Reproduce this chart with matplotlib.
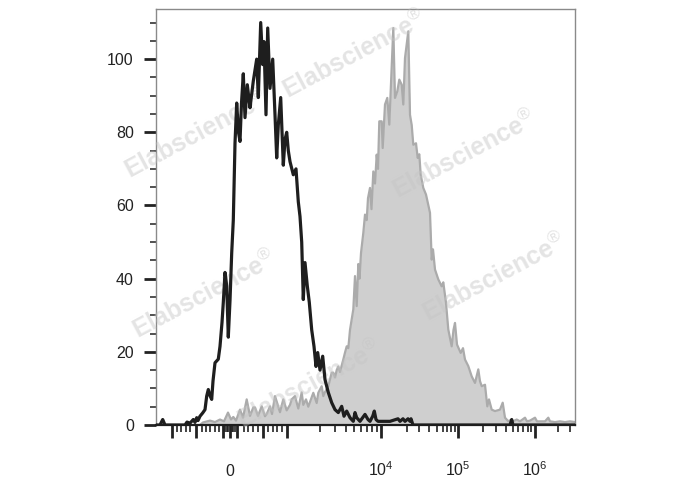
import numpy as np
import matplotlib
matplotlib.use('Agg')
import matplotlib.pyplot as plt

plt.rcParams['font.family'] = ['Liberation Sans', 'DejaVu Sans']
plt.rcParams['mathtext.fontset'] = 'custom'
plt.rcParams['mathtext.rm'] = 'Liberation Sans'

# histogram, x in display channels (biexponential axis)
black_x = [0, 4, 6.7, 9, 29, 31, 34, 37.3, 39, 40.7, 42, 44, 46.7, 49, 50.7, 52.3, 54, 55.7,
           57, 59, 62.3, 64, 66, 67.3, 69, 70.7, 72.3, 74, 75.7, 77.3, 79, 80.7, 82.5, 84,
           85.5, 87.3, 89, 91.3, 94, 95.5, 97.3, 99, 100.7, 102.3, 104.7, 106.7, 108, 110,
           111.7, 114, 116.7, 119, 120.7, 122.3, 124.7, 127.3, 129, 130.7, 132.3, 134, 137.3,
           140, 142.3, 144, 145.7, 147.3, 149, 151.3, 153.3, 155.7, 158, 160, 161.7, 164,
           166.7, 169, 172.3, 175.7, 179, 182.3, 185.7, 188, 190.7, 194, 197.3, 199, 200.7,
           204, 209, 212, 214, 216.7, 218.3, 220, 222, 227, 234, 242, 244, 247, 249, 252,
           254, 255, 257, 354, 355.7, 357, 419]
black_y = [0, 0, 1.5, 0, 0, 0.8, 0.5, 1.5, 0.7, 2.0, 1.2, 2.4, 3.3, 4.2, 7.9, 9.7, 8.0, 7.0,
           12, 17, 18, 21.5, 28, 33.5, 41.7, 38, 24, 34, 47, 56, 77, 88, 80, 77.5,
           88, 96, 84, 93, 86.7, 90, 94, 97, 100, 89.5, 110, 98.5, 104.8, 84.8,
           108.5, 92, 100, 84.8, 73, 82, 89.5, 71, 78, 80, 75, 72, 68.4,
           70, 61, 57, 50, 34.3, 44.4, 38, 33.5, 26, 21.5, 16, 19.8, 15,
           18.8, 12.4, 8.9, 6.1, 4.2, 3.4, 5.1, 2.4, 3.8, 2, 1, 3.4, 2,
           1, 2.9, 1.5, 1, 2.4, 3.8, 1.5, 1, 1, 1, 1.7, 1, 1.7, 1, 1.7,
           1, 1.7, 0, 0, 1.5, 0, 0]

gray_x = [44, 47, 54, 59, 64, 68, 72, 75, 77.3, 80, 84, 87, 90.7, 94, 97.3, 99, 102, 105.7,
          109, 110.7, 114, 116, 119, 122.3, 124, 127.3, 130.7, 134, 135.7, 139, 142.3, 145.7,
          147.3, 150, 152.3, 157.3, 160.7, 162.3, 165.7, 167.3, 169, 172.3, 174, 175.7, 177.3,
          179, 180.7, 182.3, 184, 187.3, 189, 190.7, 192.3, 194, 195.7, 197.3, 199, 200.7,
          202.3, 203.5, 205, 207.3, 209, 210.7, 212, 214, 215.5, 217.3, 219, 220.7, 222,
          223.3, 225.7, 226.7, 229, 231.3, 233.3, 235.7, 237.3, 239, 241.3, 243.3, 245.7,
          247.3, 249, 250.7, 252.3, 254, 255.7, 257.3, 260, 261.7, 263.3, 264.7, 267.3, 270,
          272.3, 274, 275.7, 277, 279, 282.3, 285.7, 287.3, 290, 292.3, 295.7, 297.5, 299,
          301, 304.7, 307, 309, 312.3, 315.7, 319, 322.3, 324, 325.7, 329, 331.3, 333, 335.7,
          339, 344, 346.7, 349, 352.3, 354, 357, 360.7, 364, 369, 371, 374, 379, 381, 384,
          389, 392.3, 394, 399, 404, 409, 414, 419]
gray_y = [0, 0.7, 1.2, 0.8, 1.5, 1.0, 3.4, 1.5, 2.2, 1.2, 4.2, 2, 7, 2.5, 4.8, 4.8, 2.5, 5.1,
          2.4, 3, 5.1, 3, 7.9, 5, 3.5, 7, 4, 5.5, 7, 7.9, 4.5, 8.9,
          5.5, 7, 5, 8.8, 6, 8.8, 10.6, 7.9, 9, 10.6, 12.4, 14.3, 14.3,
          13, 15, 16, 14.5, 17.9, 19.8, 21.5, 21, 26, 28.8, 31.6, 40.7, 32.5,
          44, 40, 47, 52.5, 57.5, 56, 62, 64.8, 59, 69.3, 66, 73.9, 70,
          83, 83, 75.7, 87.6, 89.4, 82.1, 97.6, 108.5, 89.4, 91.2, 94.4, 93,
          87.6, 100.3, 104, 107.6, 84.8, 82, 76.6, 77, 73, 74, 68.4, 64.8, 63,
          60.2, 58, 45.2, 48, 42.5, 39.8, 37.9, 39, 33.4, 26.1, 21.5, 26, 27.9,
          22, 19.7, 21, 17.9, 16.1, 13.3, 11.5, 15.2, 12, 10.6, 11, 5.1, 7, 4.2,
          3.8, 4.2, 6.1, 2, 1, 1.3, 1, 1.5, 1, 2, 1, 1.2, 2, 1, 1,
          1, 2, 1, 0.8, 1, 0.8, 1, 0.8]

y_ticks = [0, 20, 40, 60, 80, 100]
x_major = [15.7, 39.7, 67.3, 74, 81, 107.3, 130.7, 225, 302.3, 379]
x_major_labels = ['', '', '', '0', '', '', '', r'$10^{4}$', r'$10^{5}$', r'$10^{6}$']
x_minor = [20.7, 25, 29.7, 34, 45.7, 50, 54, 59, 63, 69, 70.5, 72, 75.5, 77, 78.5, 88, 92.3,
           97.3, 102, 112.3, 116.7, 121.3, 126, 164, 179, 189.5, 198, 205, 210.7, 216, 220.5,
           250.7, 263.3, 273.3, 280.7, 286.7, 291, 295, 298.5, 327.3, 340, 350, 357, 362,
           367.3, 371.5, 375.3, 402.3, 414]

fig = plt.figure(figsize=(6.88, 4.9), dpi=100)
ax = fig.add_axes([156 / 688, 65 / 490, 419 / 688, 416 / 490])

ax.fill_between(gray_x, gray_y, 0, color='#cfcfcf', lw=0, zorder=2)
ax.plot(gray_x, gray_y, color='#ababab', lw=1.6, zorder=2.2)
ax.plot(black_x, black_y, color='#1e1e1e', lw=2.3, zorder=4)

ax.set_xlim(0, 419)
ax.set_ylim(0, 113.7)

ax.set_yticks(y_ticks)
ax.set_yticks(np.arange(5, 115, 5), minor=True)
ax.tick_params(axis='y', which='major', length=9, width=2, pad=7, labelsize=11.5,
               labelcolor='#222222', color='#222222')
ax.tick_params(axis='y', which='minor', length=4.5, width=1.1, color='#222222')

ax.set_xticks(x_major, x_major_labels)
ax.set_xticks(x_minor, minor=True)
ax.tick_params(axis='x', which='major', length=9, width=2, pad=28, labelsize=11.5,
               labelcolor='#222222', color='#222222')
ax.tick_params(axis='x', which='minor', length=5, width=1.2, color='#222222')
for t in ax.xaxis.get_major_ticks():
    t.label1.set_va('baseline')

for s in ['left', 'top', 'right']:
    ax.spines[s].set_color('#8a8a8a')
    ax.spines[s].set_linewidth(1.0)
ax.spines['bottom'].set_color('#1e1e1e')
ax.spines['bottom'].set_linewidth(1.6)

# watermark
marks = [(355, 55), (197, 135), (465, 155), (205, 295), (495, 278), (310, 385)]
for mx, my in marks:
    ax.text(mx / 688, 1 - my / 490, r'Elabscience$^{\circledR}$', transform=fig.transFigure,
            rotation=28, ha='center', va='center', rotation_mode='anchor',
            fontsize=18, fontweight='bold', color='#c4c4c4', alpha=0.45,
            zorder=3, clip_on=False)

fig.savefig('out.png', dpi=100)
